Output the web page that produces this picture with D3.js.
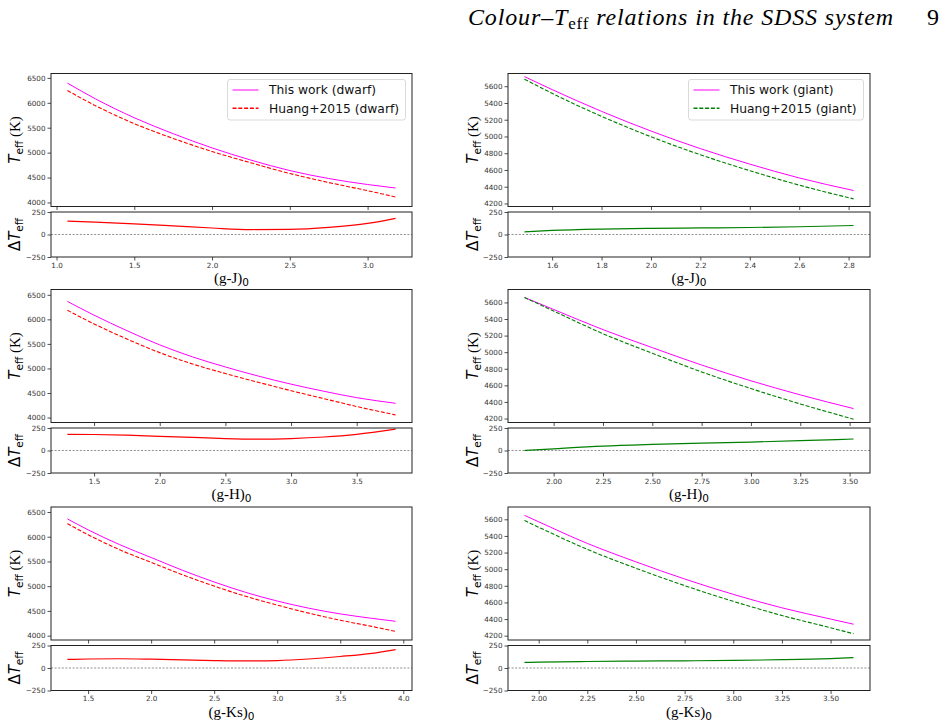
<!DOCTYPE html>
<head>
  <meta charset="utf-8">
  <script src="https://cdn.jsdelivr.net/npm/d3@7/dist/d3.min.js"></script>
  <style>
    body { margin:0; background:#fff; }
    .tick text { font-family: "DejaVu Sans", sans-serif; font-size: 7.2px; fill: #333; }
    .tick line { stroke: #222; stroke-width: 0.8; }
    .domain { display: none; }
  </style>
</head>

<body>
  <script>
    var width = 945,
        height = 726;

    // colour grids and Teff values
    var gJ_dwarf_x     = [1.07, 1.25, 1.5, 1.75, 2.0, 2.25, 2.5, 2.75, 3.0, 3.18];
    var gJ_dwarf_this  = [6395, 6080, 5700, 5380, 5095, 4850, 4640, 4480, 4360, 4290];
    var gJ_dwarf_huang = [6247, 5942, 5582, 5285, 5023, 4795, 4582, 4400, 4237, 4110];
    var gJ_dwarf_delta = [148, 138, 118, 95, 72, 55, 58, 80, 123, 180];

    var gJ_giant_x     = [1.488, 1.6, 1.8, 2.0, 2.2, 2.4, 2.6, 2.82];
    var gJ_giant_this  = [5715, 5560, 5300, 5065, 4855, 4670, 4505, 4355];
    var gJ_giant_huang = [5685, 5515, 5240, 4997, 4782, 4592, 4419, 4255];
    var gJ_giant_delta = [30, 45, 60, 68, 73, 78, 86, 100];

    var gH_dwarf_x     = [1.297, 1.5, 1.75, 2.0, 2.25, 2.5, 2.75, 3.0, 3.25, 3.5, 3.796];
    var gH_dwarf_this  = [6365, 6085, 5770, 5480, 5235, 5030, 4845, 4680, 4535, 4405, 4290];
    var gH_dwarf_huang = [6185, 5907, 5600, 5322, 5090, 4897, 4718, 4547, 4385, 4225, 4053];
    var gH_dwarf_delta = [180, 178, 170, 158, 145, 133, 127, 133, 150, 180, 237];

    var gH_giant_x     = [1.852, 2.0, 2.25, 2.5, 2.75, 3.0, 3.25, 3.52];
    var gH_giant_this  = [5660, 5515, 5272, 5055, 4845, 4655, 4485, 4320];
    var gH_giant_huang = [5660, 5496, 5223, 4987, 4762, 4561, 4376, 4192];
    var gH_giant_delta = [0, 19, 49, 68, 83, 94, 109, 128];

    var gK_dwarf_x     = [1.336, 1.5, 1.75, 2.0, 2.25, 2.5, 2.75, 3.0, 3.25, 3.5, 3.75, 3.939];
    var gK_dwarf_this  = [6360, 6140, 5840, 5580, 5320, 5085, 4875, 4700, 4555, 4440, 4350, 4290];
    var gK_dwarf_huang = [6265, 6040, 5737, 5482, 5230, 5002, 4796, 4617, 4455, 4312, 4187, 4085];
    var gK_dwarf_delta = [95, 100, 103, 98, 90, 83, 79, 83, 100, 128, 163, 205];

    var gK_giant_x     = [1.927, 2.0, 2.25, 2.5, 2.75, 3.0, 3.25, 3.5, 3.618];
    var gK_giant_this  = [5648, 5570, 5310, 5088, 4882, 4697, 4535, 4400, 4338];
    var gK_giant_huang = [5586, 5505, 5238, 5011, 4802, 4613, 4443, 4295, 4223];
    var gK_giant_delta = [62, 65, 72, 77, 80, 84, 92, 105, 115];

    // axis limits and ticks
    var teffLimits = [[3919, 6588], [4164, 5752], [3899, 6608], [4152, 5756], [3912, 6601], [4148, 5748]];
    var dwarfTeffTicks = [4000, 4500, 5000, 5500, 6000, 6500];
    var giantTeffTicks = [4200, 4400, 4600, 4800, 5000, 5200, 5400, 5600];
    var deltaTicks = [-250, 0, 250];
    var colourTicks = [
      [1.0, 1.5, 2.0, 2.5, 3.0],
      [1.6, 1.8, 2.0, 2.2, 2.4, 2.6, 2.8],
      [1.5, 2.0, 2.5, 3.0, 3.5],
      [2.0, 2.25, 2.5, 2.75, 3.0, 3.25, 3.5],
      [1.5, 2.0, 2.5, 3.0, 3.5, 4.0],
      [2.0, 2.25, 2.5, 2.75, 3.0, 3.25, 3.5]
    ];
    var colourLabels = ["(g-J)", "(g-J)", "(g-H)", "(g-H)", "(g-Ks)", "(g-Ks)"];
    var legendLabels = [["This work (dwarf)", "Huang+2015 (dwarf)"], ["This work (giant)", "Huang+2015 (giant)"]];

    var panels = [
      {x: gJ_dwarf_x, a: gJ_dwarf_this, b: gJ_dwarf_huang, d: gJ_dwarf_delta},
      {x: gJ_giant_x, a: gJ_giant_this, b: gJ_giant_huang, d: gJ_giant_delta},
      {x: gH_dwarf_x, a: gH_dwarf_this, b: gH_dwarf_huang, d: gH_dwarf_delta},
      {x: gH_giant_x, a: gH_giant_this, b: gH_giant_huang, d: gH_giant_delta},
      {x: gK_dwarf_x, a: gK_dwarf_this, b: gK_dwarf_huang, d: gK_dwarf_delta},
      {x: gK_giant_x, a: gK_giant_this, b: gK_giant_huang, d: gK_giant_delta}
    ];

    var svg = d3.select("body")
      .append("svg")
      .attr("width", width)
      .attr("height", height);

    // running header
    var head = svg.append("text")
      .attr("x", 468).attr("y", 25)
      .attr("textLength", 425).attr("lengthAdjust", "spacing")
      .style("font-family", "'Liberation Serif', 'DejaVu Serif', serif")
      .style("font-size", "24px")
      .style("font-style", "italic");
    head.append("tspan").text("Colour\u2013T");
    head.append("tspan").attr("dy", 4).style("font-style", "normal").style("font-size", "17px").text("eff");
    head.append("tspan").attr("dy", -4).text(" relations in the SDSS system");
    svg.append("text")
      .attr("x", 927).attr("y", 25)
      .style("font-family", "'Liberation Serif', 'DejaVu Serif', serif")
      .style("font-size", "24px")
      .text("9");

    var colX = [[51, 412], [508, 870]];
    var rowTop = [73.5, 289.5, 507];
    var mainH = 133, gap = 5.5, deltaH = 45;

    panels.forEach(function(p, i) {
      var col = i % 2, row = Math.floor(i / 2);
      var x0 = colX[col][0], x1 = colX[col][1];
      var mTop = rowTop[row], mBot = mTop + mainH;
      var dTop = mBot + gap, dBot = dTop + deltaH;
      var colour = col === 0 ? "#ff0000" : "#008000";

      var xmin = d3.min(p.x), xmax = d3.max(p.x), pad = 0.05 * (xmax - xmin);
      var x = d3.scaleLinear().domain([xmin - pad, xmax + pad]).range([x0, x1]);
      var y = d3.scaleLinear().domain(teffLimits[i]).range([mBot, mTop]);
      var yd = d3.scaleLinear().domain([-250, 250]).range([dBot, dTop]);
      var fmt = col === 1 && row > 0 ? d3.format(".2f") : d3.format(".1f");

      // main panel axes
      svg.append("g").attr("transform", "translate(0," + mBot + ")")
        .call(d3.axisBottom(x).tickValues(colourTicks[i]).tickFormat("").tickSize(3.5).tickSizeOuter(0));
      svg.append("g").attr("transform", "translate(" + x0 + ",0)")
        .call(d3.axisLeft(y).tickValues(col === 0 ? dwarfTeffTicks : giantTeffTicks)
          .tickFormat(d3.format("d")).tickSize(3.5).tickPadding(2).tickSizeOuter(0));

      // delta panel axes
      svg.append("g").attr("transform", "translate(0," + dBot + ")")
        .call(d3.axisBottom(x).tickValues(colourTicks[i]).tickFormat(fmt).tickSize(3.5).tickPadding(2).tickSizeOuter(0));
      svg.append("g").attr("transform", "translate(" + x0 + ",0)")
        .call(d3.axisLeft(yd).tickValues(deltaTicks).tickFormat(d3.format("d"))
          .tickSize(3.5).tickPadding(2).tickSizeOuter(0));

      svg.append("line")
        .attr("x1", x0).attr("x2", x1).attr("y1", yd(0)).attr("y2", yd(0))
        .attr("stroke", "#444").attr("stroke-width", 0.6).attr("stroke-dasharray", "2,1.6");

      var pts = p.x.map(function(v, k) { return k; });
      var lineA = d3.line().x(function(k) { return x(p.x[k]); }).y(function(k) { return y(p.a[k]); }).curve(d3.curveMonotoneX);
      var lineB = d3.line().x(function(k) { return x(p.x[k]); }).y(function(k) { return y(p.b[k]); }).curve(d3.curveMonotoneX);
      var lineD = d3.line().x(function(k) { return x(p.x[k]); }).y(function(k) { return yd(p.d[k]); }).curve(d3.curveMonotoneX);

      svg.append("path").attr("d", lineA(pts)).attr("fill", "none")
        .attr("stroke", "#ff00ff").attr("stroke-width", 1);
      svg.append("path").attr("d", lineB(pts)).attr("fill", "none")
        .attr("stroke", colour).attr("stroke-width", 1.1).attr("stroke-dasharray", "4,1.8");
      svg.append("path").attr("d", lineD(pts)).attr("fill", "none")
        .attr("stroke", colour).attr("stroke-width", 1.2);

      // frames
      svg.append("rect").attr("x", x0).attr("y", mTop).attr("width", x1 - x0).attr("height", mainH)
        .attr("fill", "none").attr("stroke", "#222").attr("stroke-width", 1);
      svg.append("rect").attr("x", x0).attr("y", dTop).attr("width", x1 - x0).attr("height", deltaH)
        .attr("fill", "none").attr("stroke", "#222").attr("stroke-width", 1);

      // y labels
      var lx = col === 0 ? 20 : 478;
      var t1 = svg.append("text")
        .attr("transform", "translate(" + lx + "," + ((mTop + mBot) / 2) + ") rotate(-90)")
        .attr("text-anchor", "middle")
        .style("font-size", "15px");
      t1.append("tspan").style("font-family", "'DejaVu Sans', sans-serif").style("font-style", "italic").text("T");
      t1.append("tspan").attr("dy", 3).style("font-family", "'DejaVu Sans', sans-serif").style("font-size", "10.5px").text("eff");
      t1.append("tspan").attr("dy", -3).style("font-family", "'Liberation Serif', serif").text(" (K)");

      var t2 = svg.append("text")
        .attr("transform", "translate(" + lx + "," + ((dTop + dBot) / 2) + ") rotate(-90)")
        .attr("text-anchor", "middle")
        .style("font-family", "'DejaVu Sans', sans-serif")
        .style("font-size", "15px");
      t2.append("tspan").text("\u0394");
      t2.append("tspan").style("font-style", "italic").text("T");
      t2.append("tspan").attr("dy", 3).style("font-size", "10.5px").text("eff");

      // x label
      var xl = svg.append("text")
        .attr("x", (x0 + x1) / 2).attr("y", dBot + 26)
        .attr("text-anchor", "middle");
      xl.append("tspan").style("font-family", "'Liberation Serif', serif").style("font-size", "15px").text(colourLabels[i]);
      xl.append("tspan").attr("dy", 3).style("font-family", "'DejaVu Sans', sans-serif").style("font-size", "10.5px").text("0");

      // legend in top row
      if (row === 0) {
        var lg = col === 0 ? {x: 227.5, w: 178} : {x: 688.5, w: 175};
        var g = svg.append("g");
        g.append("rect").attr("x", lg.x).attr("y", 79.5).attr("width", lg.w).attr("height", 40.5)
          .attr("rx", 2.5).attr("fill", "#fff").attr("fill-opacity", 0.8)
          .attr("stroke", "#d0d0d0").attr("stroke-width", 0.8);
        [0, 1].forEach(function(k) {
          var yy = 90 + k * 18.3;
          g.append("line").attr("x1", lg.x + 5).attr("x2", lg.x + 31).attr("y1", yy).attr("y2", yy)
            .attr("stroke", k === 0 ? "#ff00ff" : colour).attr("stroke-width", k === 0 ? 1 : 1.4)
            .attr("stroke-dasharray", k === 0 ? null : "4,1.8");
          g.append("text").attr("x", lg.x + 41.5).attr("y", yy + 4.4)
            .style("font-family", "'DejaVu Sans', sans-serif").style("font-size", "12.3px").style("fill", "#111")
            .text(legendLabels[col][k]);
        });
      }
    });
  </script>
</body>
